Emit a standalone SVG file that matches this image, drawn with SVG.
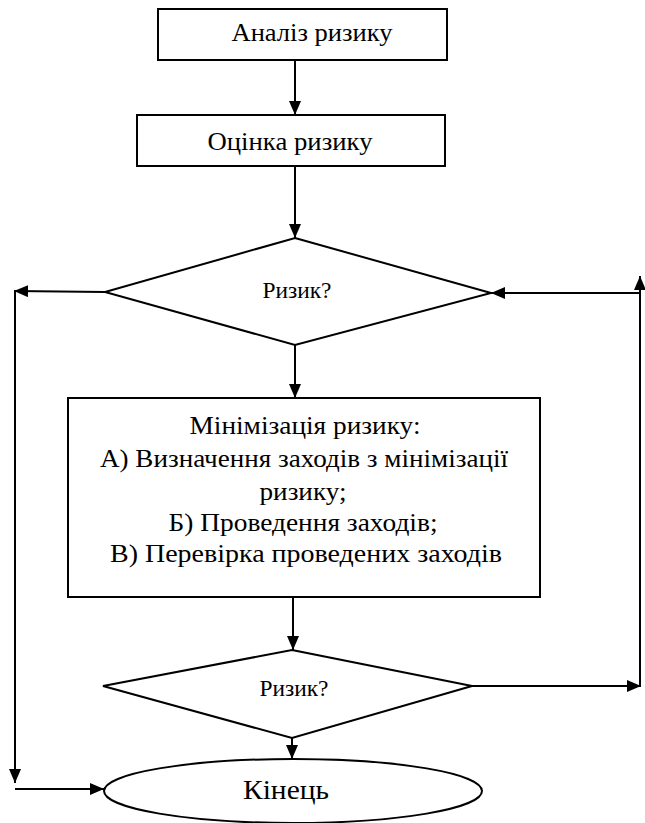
<svg xmlns="http://www.w3.org/2000/svg" width="645" height="823" viewBox="0 0 645 823">
<defs>
<marker id="ah" markerWidth="14" markerHeight="12" refX="14" refY="6" orient="auto" markerUnits="userSpaceOnUse" viewBox="0 0 14 12">
<path d="M0,0 L14,6 L0,12 z" fill="#000"/>
</marker>
<style>
.s{fill:#fff;stroke:#000;stroke-width:2}
.c{fill:none;stroke:#000;stroke-width:2;marker-end:url(#ah)}
text{font-family:'Liberation Serif','DejaVu Serif','Times New Roman',serif;fill:#000;text-anchor:middle}
.t{font-size:26px}
.d{font-size:23px}
.e{font-size:28px}
</style>
</defs>
<rect width="645" height="823" fill="#fff"/>
<g id="connectors">
<line class="c" x1="295" y1="60" x2="295" y2="115"/>
<line class="c" x1="295" y1="166" x2="295" y2="238"/>
<line class="c" x1="295" y1="345" x2="295" y2="398"/>
<line class="c" x1="293" y1="597" x2="293" y2="650"/>
<line class="c" x1="292" y1="738" x2="292" y2="759"/>
<line class="c" x1="105" y1="292" x2="14" y2="291"/>
<line class="c" x1="15" y1="291" x2="15" y2="783"/>
<line class="c" x1="15" y1="789" x2="104" y2="789"/>
<line class="c" x1="472" y1="686" x2="641" y2="686"/>
<line class="c" x1="640" y1="686" x2="640" y2="276"/>
<line class="c" x1="640" y1="293" x2="491" y2="293"/>
</g>
<g id="analiz">
<rect class="s" x="158" y="9" width="289" height="51"/>
<text class="t" x="312" y="41" textLength="161" lengthAdjust="spacingAndGlyphs">Аналіз ризику</text>
</g>
<g id="otsinka">
<rect class="s" x="137" y="115" width="308" height="51"/>
<text class="t" x="290" y="150" textLength="165" lengthAdjust="spacingAndGlyphs">Оцінка ризику</text>
</g>
<g id="decision1">
<polygon class="s" points="295,238 491,293 295,345 105,292"/>
<text class="d" x="297" y="298" textLength="69" lengthAdjust="spacingAndGlyphs">Ризик?</text>
</g>
<g id="minimizatsiya">
<rect class="s" x="68" y="398" width="472" height="199"/>
<text class="t" x="305" y="434" textLength="231" lengthAdjust="spacingAndGlyphs">Мінімізація ризику:</text>
<text class="t" x="304" y="467" textLength="408" lengthAdjust="spacingAndGlyphs">А) Визначення заходів з мінімізації</text>
<text class="t" x="303" y="500" textLength="87" lengthAdjust="spacingAndGlyphs">ризику;</text>
<text class="t" x="303" y="531" textLength="269" lengthAdjust="spacingAndGlyphs">Б) Проведення заходів;</text>
<text class="t" x="306" y="562" textLength="392" lengthAdjust="spacingAndGlyphs">В) Перевірка проведених заходів</text>
</g>
<g id="decision2">
<polygon class="s" points="292,650 472,686 292,738 103,686"/>
<text class="d" x="294" y="696" textLength="69" lengthAdjust="spacingAndGlyphs">Ризик?</text>
</g>
<g id="kinets">
<ellipse class="s" cx="293" cy="791" rx="189" ry="32"/>
<text class="e" x="286" y="799" textLength="86" lengthAdjust="spacingAndGlyphs">Кінець</text>
</g>
</svg>
